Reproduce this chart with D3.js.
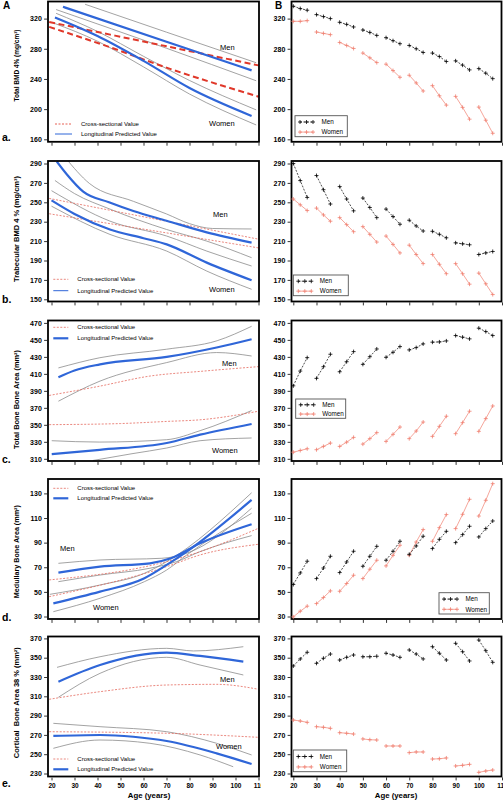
<!DOCTYPE html>
<html><head><meta charset="utf-8">
<script src="https://cdn.jsdelivr.net/npm/d3@7"></script>
<style>
body{margin:0;background:#fff}
svg{display:block}
text{font-family:Arial,"Liberation Sans",sans-serif}
</style>
</head><body>
<svg id="c" width="503" height="800"></svg>
<script>
// ---------------- DATA ----------------
const xTicks = [20,30,40,50,60,70,80,90,100,110];
const baseAges = [20,30,40,50,60,70,80,90,100];
const followUp = [0,3,6];

const aTicks = [160,200,240,280,320];
const bTicks = [150,170,190,210,230,250,270,290];
const cTicks = [310,330,350,370,390,410,430,450,470];
const dTicks = [30,50,70,90,110,130];
const eTicks = [230,250,270,290,310,330,350,370];

const yTitles = ["Total BMD 4% (mg/cm\u00B3)","Trabecular BMD 4 % (mg/cm\u00B3)","Total Bone Bone Area (mm\u00B2)","Medullary Bone Area (mm\u00B2)","Cortical  Bone Area 38 % (mm\u00B2)"];
const rowLetters = ["a.","b.","c.","d.","e."];
const legendLabels = ["Cross-sectional Value","Longitudinal Predicted Value"];
const groupLabels = ["Men","Women"];

// Left panels: [age, value]
const aMenCross = [[19,315.5],[60,289.6],[110,258]];
const aWomenCross = [[19,309],[45,282.5],[70,255],[110,216.5]];
const aMenLong = [[25,335.6],[70,289.3],[107,251.4]];
const aMenUpper = [[34.6,339],[70,302],[109,261.5]];
const aMenLower = [[22,332],[70,280.7],[109,237.6]];
const aWomenLong = [[21.5,321.6],[40,297],[60,264],[80,228],[107,191]];
const aWomenUpper = [[22,327],[40,303],[60,270],[80,238],[109,199]];
const aWomenLower = [[21,314],[40,290],[60,256],[80,220],[109,179]];

const bMenCross = [[19,254],[110,212]];
const bWomenCross = [[19,238.2],[110,203]];
const bMenLong = [[22.3,292],[26.7,278.7],[33.8,261],[45,250],[55.6,241],[70,231],[87.5,219],[107,208.4]];
const bMenUpper = [[26,296],[36.5,269.4],[55.6,251],[70,238],[80,228],[90,223],[107,222.5]];
const bMenLower = [[21.5,272.5],[30,259],[45.4,243],[70,222],[87.5,210],[107,192.9]];
const bWomenLong = [[20,252],[30,238],[45.4,222],[60,213],[70.1,206.6],[87.5,187.8],[107,169.6]];
const bWomenUpper = [[20,262],[45.4,230.6],[70.1,215.2],[87.5,199.7],[107,184.3]];
const bWomenLower = [[20,246],[45.4,216.9],[70.1,199.7],[87.5,179.1],[107,160.3]];

const cMenCross = [[19,384.6],[40,395],[62.8,407.4],[85,413],[110,418.5]];
const cWomenCross = [[19,350.2],[50,351.5],[70,354],[85,356],[110,366]];
const cMenLong = [[23,406],[30,414],[41.1,421.2],[70.1,429.9],[91.8,441],[107,450.8]];
const cMenUpper = [[23,417],[41,429],[70,439],[92,449],[107,466]];
const cMenLower = [[23,377.8],[41.1,401.5],[70.1,423.3],[91.8,435.1],[107,431]];
const cWomenLong = [[20.1,315.5],[41,320.6],[70.1,328.6],[84.6,338.4],[107,351]];
const cWomenUpper = [[20.1,331.3],[41,329.7],[70.1,332.5],[84.6,343.1],[107,366.8]];
const cWomenLower = [[38,308],[55,316],[70.1,322.7],[84.6,331.3],[107,334.5]];

const dMenCross = [[19,59.7],[70.1,74.6],[84.6,82.7],[110,101.7]];
const dWomenCross = [[19,46.1],[70.1,70.5],[84.6,80],[110,88.7]];
const dMenLong = [[23,65.6],[41.1,70.5],[62.8,73.2],[71.9,77.3],[84.6,89.5],[107,105]];
const dMenUpper = [[23,73.2],[41.1,75.9],[68,77.3],[78.8,81.4],[107,118]];
const dMenLower = [[23,58.3],[41.1,63.7],[62.8,69.2],[74.4,74.6],[84.6,82.7],[107,95.7]];
const dWomenLong = [[20.8,40.7],[41.1,50.2],[60.4,61.1],[70.1,71.9],[78.8,82.7],[107,124.7]];
const dWomenUpper = [[19.3,48],[41.1,55.6],[60.4,65.1],[70.1,74.6],[107,130.5]];
const dWomenLower = [[20.8,33.9],[41.1,44.8],[60.4,58.3],[70.1,67.8],[78.8,80],[107,113.9]];

const eMenCross = [[19,306.9],[41.1,314.8],[70.1,321.7],[91.8,322.4],[110,317.3]];
const eWomenCross = [[19,273.3],[70.1,271.7],[110,267.5]];
const eMenLong = [[23,325.1],[41.1,342.4],[70.1,355.2],[84.6,351.8],[103.4,345.9]];
const eMenUpper = [[22.4,340],[41.1,351],[70.1,359.7],[81.7,357],[103.4,361.4]];
const eMenLower = [[23,309],[41.1,333.8],[70.1,350.4],[84.6,342.4],[103.4,332.1]];
const eWomenLong = [[20.8,268.9],[41.1,269.9],[55.6,268.1],[70.1,263.7],[91.8,250.9],[107,239.8]];
const eWomenUpper = [[20.8,282],[41.1,278.5],[70.1,273.3],[91.8,261.3],[107,249.2]];
const eWomenLower = [[20.8,256.1],[41.1,264.7],[62.8,261.3],[84.6,249.2],[99,237]];

// Right panels: per baseline decade, values at 0,3,6 years follow-up
const rMenA = [[336.4,333.3,331.1],[325.3,322.7,320],[315.1,312.4,308.9],[304.9,301.7,297.7],[294.7,290.7,286.7],[284.4,280,275.1],[274.3,269.7,263.1],[264,258.3,252],[253.7,247.6,240.4]];
const rWomenA = [[316.4,316.4,317.3],[302.2,300.4,298.7],[288.4,284.4,280.4],[274.3,268,261.7],[259.6,251.1,242.2],[244.9,234.7,224],[231.1,217.7,205.3],[216.9,202.3,186.7],[202.7,185.3,168]];
const rMenB = [[290,272.4,255],[277.6,263,248.2],[266.2,253.4,241.2],[254.4,244.6,234.2],[243,235.3,227.4],[231.5,225.6,220.4],[220.1,217,213.4],[208.2,207.2,206.2],[196.2,197.8,199.3]];
const rWomenB = [[253.4,247.4,241.5],[244,237,230.5],[234.2,227,219.7],[224.9,217,209],[215.2,206.6,197.8],[205.8,196.2,186.8],[196.2,186.1,176.4],[186.8,176.4,165.6],[177,166,154.9]];
const rMenC = [[395.9,413.3,429.1],[404.7,418.4,433.1],[412.5,424.3,436.2],[421.2,430.2,439.3],[429.5,435.4,442.1],[438.2,440.9,445.3],[447.3,447.6,448.8],[455.1,453.2,451.2],[463.8,459.8,455.1]];
const rWomenC = [[317.8,319.8,321.8],[320.7,324.6,328.5],[324.6,329.6,335.2],[327.3,333.7,340.8],[330.5,338.8,347.4],[333.7,342.7,353.3],[336.4,348.2,360.1],[339.6,352.6,366],[342.3,357.3,372.2]];
const rMenD = [[56,65.4,74.9],[60.8,69.4,78.9],[65.7,74.3,83],[70.8,78.9,87],[75.7,83,91.1],[80.5,87.3,95.2],[85.2,92.7,99.2],[90,96.5,103.3],[94.6,101.4,107.6]];
const rWomenD = [[29.7,34.3,38.4],[40.5,45.4,50.8],[50.5,56.8,63.5],[60.8,68.4,75.7],[71.1,79.7,87.9],[79.7,90.5,100.6],[91.1,102.2,112.8],[101.4,113,125.2],[111.6,124.4,137.9]];
const rMenE = [[341.4,348.7,355.6],[344.2,349.4,353.8],[347.6,350.4,352.8],[351,351,351.5],[354.6,352.8,350.4],[358,353.8,348.7],[361.4,354.6,347.6],[364.9,356.2,346.6],[368.3,357.3,345.2]];
const rWomenE = [[285.4,284.4,283],[278.5,277.9,276.8],[272.3,271.7,270.9],[265.8,265,264.7],[258.5,258.5,258.5],[251.6,252.3,252.3],[245,245.3,246.1],[237.8,238.5,239.5],[231.2,232.6,233.6]];

// ---------------- LAYOUT ----------------
const BLUE = "#2f66d8", RED = "#e0382a", REDTHIN = "#e46a5e", GREY = "#8c8c8c", SALMON = "#f07f70";
const LEFTX = {x0:48, x1:259, r0:51.5, r1:258.5};
const RIGHTX = {x0:291.5, x1:501.5, r0:293.3, r1:502};
const rows = [
  {top:1.5, bottom:141.8, pMin:139.3, pMax:18.6, ticks:aTicks, titleY:65.5, titleLen:72, letterY:141,
   left:{mc:aMenCross,wc:aWomenCross,ml:aMenLong,mu:aMenUpper,mlo:aMenLower,wl:aWomenLong,wu:aWomenUpper,wlo:aWomenLower},
   right:{m:rMenA,w:rWomenA},
   leg:{x0:55,x1:72,tx:81,y1:124,y2:134,thickBlue:false,thickRed:true},
   lab:{mx:220,my:49.5,wx:209,wy:126},
   rleg:{x:295,y:115.7,w:52.3,h:21}},
  {top:161, bottom:301.5, pMin:299.3, pMax:163.5, ticks:bTicks, titleY:229, titleLen:106, letterY:303,
   left:{mc:bMenCross,wc:bWomenCross,ml:bMenLong,mu:bMenUpper,mlo:bMenLower,wl:bWomenLong,wu:bWomenUpper,wlo:bWomenLower},
   right:{m:rMenB,w:rWomenB},
   leg:{x0:53.3,x1:68.3,tx:77.3,y1:279.3,y2:290.7,thickBlue:false,thickRed:false},
   lab:{mx:213,my:216.5,wx:209,wy:291.5},
   rleg:{x:293.3,y:275,w:55,h:20.7}},
  {top:320.5, bottom:461, pMin:458.8, pMax:322.9, ticks:cTicks, titleY:399.5, titleLen:99, letterY:463,
   left:{mc:cMenCross,wc:cWomenCross,ml:cMenLong,mu:cMenUpper,mlo:cMenLower,wl:cWomenLong,wu:cWomenUpper,wlo:cWomenLower},
   right:{m:rMenC,w:rWomenC},
   leg:{x0:53.3,x1:68.3,tx:77.3,y1:327.3,y2:338.3,thickBlue:true,thickRed:false},
   lab:{mx:222,my:366,wx:212,wy:452.5},
   rleg:{x:295.7,y:399,w:50,h:19.3}},
  {top:479, bottom:619, pMin:616.5, pMax:493.4, ticks:dTicks, titleY:551.7, titleLen:93, letterY:621,
   left:{mc:dMenCross,wc:dWomenCross,ml:dMenLong,mu:dMenUpper,mlo:dMenLower,wl:dWomenLong,wu:dWomenUpper,wlo:dWomenLower},
   right:{m:rMenD,w:rWomenD},
   leg:{x0:53.3,x1:68.3,tx:77.3,y1:488.3,y2:498.3,thickBlue:true,thickRed:false},
   lab:{mx:60,my:551,wx:93,wy:610},
   rleg:{x:439,y:592.7,w:50.3,h:21.3}},
  {top:636.5, bottom:776.5, pMin:773.5, pMax:638.4, ticks:eTicks, titleY:702.7, titleLen:111, letterY:787,
   left:{mc:eMenCross,wc:eWomenCross,ml:eMenLong,mu:eMenUpper,mlo:eMenLower,wl:eWomenLong,wu:eWomenUpper,wlo:eWomenLower},
   right:{m:rMenE,w:rWomenE},
   leg:{x0:53.3,x1:68.3,tx:77.3,y1:759,y2:769.3,thickBlue:true,thickRed:false},
   lab:{mx:220,my:681.5,wx:216,wy:748.5},
   rleg:{x:293.3,y:750,w:53.4,h:21.7}}
];

const svg = d3.select("#c");
const defs = svg.append("defs");
defs.append("clipPath").attr("id","clipTick").append("rect").attr("x",0).attr("y",0).attr("width",261).attr("height",800);

function styleAxis(g, fs){
  g.select(".domain").remove();
  g.selectAll(".tick line").attr("stroke","#000").attr("stroke-width",0.8);
  g.selectAll(".tick text").attr("font-size",fs).attr("font-weight","bold").attr("fill","#000")
   .attr("font-family","Arial, Liberation Sans, sans-serif");
}

function plus(g, cx, cy, color){
  g.append("path").attr("d",`M${cx-2},${cy}H${cx+2}M${cx},${cy-2}V${cy+2}`)
   .attr("stroke",color).attr("stroke-width",0.8).attr("fill","none");
}

rows.forEach((row, i) => {
  const last = i === rows.length - 1;
  const ticks = row.ticks;
  // ---------- LEFT ----------
  const xL = d3.scaleLinear().domain([20,110]).range([LEFTX.r0, LEFTX.r1]);
  const y = d3.scaleLinear().domain([ticks[0], ticks[ticks.length-1]]).range([row.pMin, row.pMax]);
  const gl = svg.append("g");
  const cid = "clipL"+i;
  defs.append("clipPath").attr("id",cid).append("rect")
    .attr("x",LEFTX.x0).attr("y",row.top).attr("width",LEFTX.x1-LEFTX.x0).attr("height",row.bottom-row.top);
  const line = d3.line().x(d=>xL(d[0])).y(d=>y(d[1])).curve(d3.curveMonotoneX);
  const pl = gl.append("g").attr("clip-path",`url(#${cid})`);
  const L = row.left;
  [L.mu,L.mlo,L.wu,L.wlo].forEach(d => pl.append("path").datum(d).attr("d",line)
      .attr("fill","none").attr("stroke",GREY).attr("stroke-width",0.8));
  [L.mc,L.wc].forEach(d => {
    const p = pl.append("path").datum(d).attr("d",line).attr("fill","none");
    if (i===0) p.attr("stroke",RED).attr("stroke-width",2).attr("stroke-dasharray","6,3.5");
    else p.attr("stroke",REDTHIN).attr("stroke-width",0.8).attr("stroke-dasharray","2,1.5");
  });
  [L.ml,L.wl].forEach(d => pl.append("path").datum(d).attr("d",line)
      .attr("fill","none").attr("stroke",BLUE).attr("stroke-width",2.2));
  // frame
  gl.append("rect").attr("x",LEFTX.x0).attr("y",row.top).attr("width",LEFTX.x1-LEFTX.x0).attr("height",row.bottom-row.top)
    .attr("fill","none").attr("stroke","#000").attr("stroke-width",1.8);
  // axes
  const ya = gl.append("g").attr("transform",`translate(${LEFTX.x0-0.9},0)`)
    .call(d3.axisLeft(y).tickValues(ticks).tickSize(3).tickPadding(2.3).tickFormat(d3.format("d")));
  styleAxis(ya, 7);
  const xa = gl.append("g").attr("transform",`translate(0,${row.bottom+0.9})`)
    .call(d3.axisBottom(xL).tickValues(xTicks).tickSize(3).tickPadding(2.5).tickFormat(last? d3.format("d") : ""));
  styleAxis(xa, 6.5);
  if (last) xa.attr("clip-path","url(#clipTick)");
  // legend
  const lg = row.leg;
  const rl = gl.append("line").attr("x1",lg.x0).attr("x2",lg.x1).attr("y1",lg.y1).attr("y2",lg.y1).attr("fill","none");
  if (lg.thickRed) rl.attr("stroke",RED).attr("stroke-width",0.8).attr("stroke-dasharray","2,1.5");
  else rl.attr("stroke",REDTHIN).attr("stroke-width",0.8).attr("stroke-dasharray","2,1.5");
  gl.append("line").attr("x1",lg.x0).attr("x2",lg.x1).attr("y1",lg.y2).attr("y2",lg.y2)
    .attr("stroke",BLUE).attr("stroke-width",lg.thickBlue?2.2:1);
  gl.append("text").attr("x",lg.tx).attr("y",lg.y1+2.1).attr("font-size",6).text(legendLabels[0]);
  gl.append("text").attr("x",lg.tx).attr("y",lg.y2+2.1).attr("font-size",6).text(legendLabels[1]);
  gl.append("text").attr("x",row.lab.mx).attr("y",row.lab.my).attr("font-size",7.5).text(groupLabels[0]);
  gl.append("text").attr("x",row.lab.wx).attr("y",row.lab.wy).attr("font-size",7.5).text(groupLabels[1]);
  // y title
  gl.append("text").attr("transform",`translate(18.5,${row.titleY}) rotate(-90)`)
    .attr("text-anchor","middle").attr("font-size",7).attr("font-weight","bold")
    .attr("textLength",row.titleLen).attr("lengthAdjust","spacingAndGlyphs")
    .style("white-space","pre").text(yTitles[i]);
  gl.append("text").attr("x",2).attr("y",row.letterY).attr("font-size",10.5).attr("font-weight","bold").text(rowLetters[i]);

  // ---------- RIGHT ----------
  const xR = d3.scaleLinear().domain([20,110]).range([RIGHTX.r0, RIGHTX.r1]);
  const gr = svg.append("g");
  gr.append("rect").attr("x",RIGHTX.x0).attr("y",row.top).attr("width",RIGHTX.x1-RIGHTX.x0).attr("height",row.bottom-row.top)
    .attr("fill","none").attr("stroke","#000").attr("stroke-width",1.8);
  const yra = gr.append("g").attr("transform",`translate(${RIGHTX.x0-0.9},0)`)
    .call(d3.axisLeft(y).tickValues(ticks).tickSize(3).tickPadding(2.3).tickFormat(d3.format("d")));
  styleAxis(yra, 7);
  const xra = gr.append("g").attr("transform",`translate(0,${row.bottom+0.9})`)
    .call(d3.axisBottom(xR).tickValues(xTicks).tickSize(3).tickPadding(2.5).tickFormat(last? d3.format("d") : ""));
  styleAxis(xra, 6.5);
  const segLine = d3.line().x(d=>xR(d[0])).y(d=>y(d[1]));
  [[row.right.w, SALMON, null],[row.right.m, "#000", "2,1.4"]].forEach(([series,color,dash]) => {
    series.forEach((vals, gi) => {
      const pts = vals.map((v,k) => [baseAges[gi]+followUp[k], v]);
      const p = gr.append("path").datum(pts).attr("d",segLine).attr("fill","none")
        .attr("stroke",color).attr("stroke-width",0.7);
      if (dash) p.attr("stroke-dasharray",dash);
      pts.forEach(d => plus(gr, xR(d[0]), y(d[1]), color));
    });
  });
  // right legend
  const rb = row.rleg;
  gr.append("rect").attr("x",rb.x).attr("y",rb.y).attr("width",rb.w).attr("height",rb.h)
    .attr("fill","#fff").attr("stroke","#555").attr("stroke-width",0.9);
  [["#000","2,1.4",groupLabels[0]],[SALMON,null,groupLabels[1]]].forEach(([color,dash,label],k) => {
    const yy = rb.y + rb.h*(k===0?0.3:0.78);
    const lx0 = rb.x+5, lx1 = rb.x+18;
    const l = gr.append("line").attr("x1",lx0).attr("x2",lx1).attr("y1",yy).attr("y2",yy).attr("stroke",color).attr("stroke-width",0.7);
    if (dash) l.attr("stroke-dasharray",dash);
    [lx0,(lx0+lx1)/2,lx1].forEach(px => plus(gr, px, yy, color));
    gr.append("text").attr("x",rb.x+26.5).attr("y",yy+2.2).attr("font-size",6.3).text(label);
  });
});

// panel letters and x titles
svg.append("text").attr("x",3).attr("y",9).attr("font-size",10).attr("font-weight","bold").text("A");
svg.append("text").attr("x",275).attr("y",9).attr("font-size",10).attr("font-weight","bold").text("B");
svg.append("text").attr("x",149).attr("y",797.5).attr("text-anchor","middle").attr("font-size",7.8).attr("font-weight","bold").text("Age (years)");
svg.append("text").attr("x",396).attr("y",797.5).attr("text-anchor","middle").attr("font-size",7.8).attr("font-weight","bold").text("Age (years)");
</script>
</body></html>
